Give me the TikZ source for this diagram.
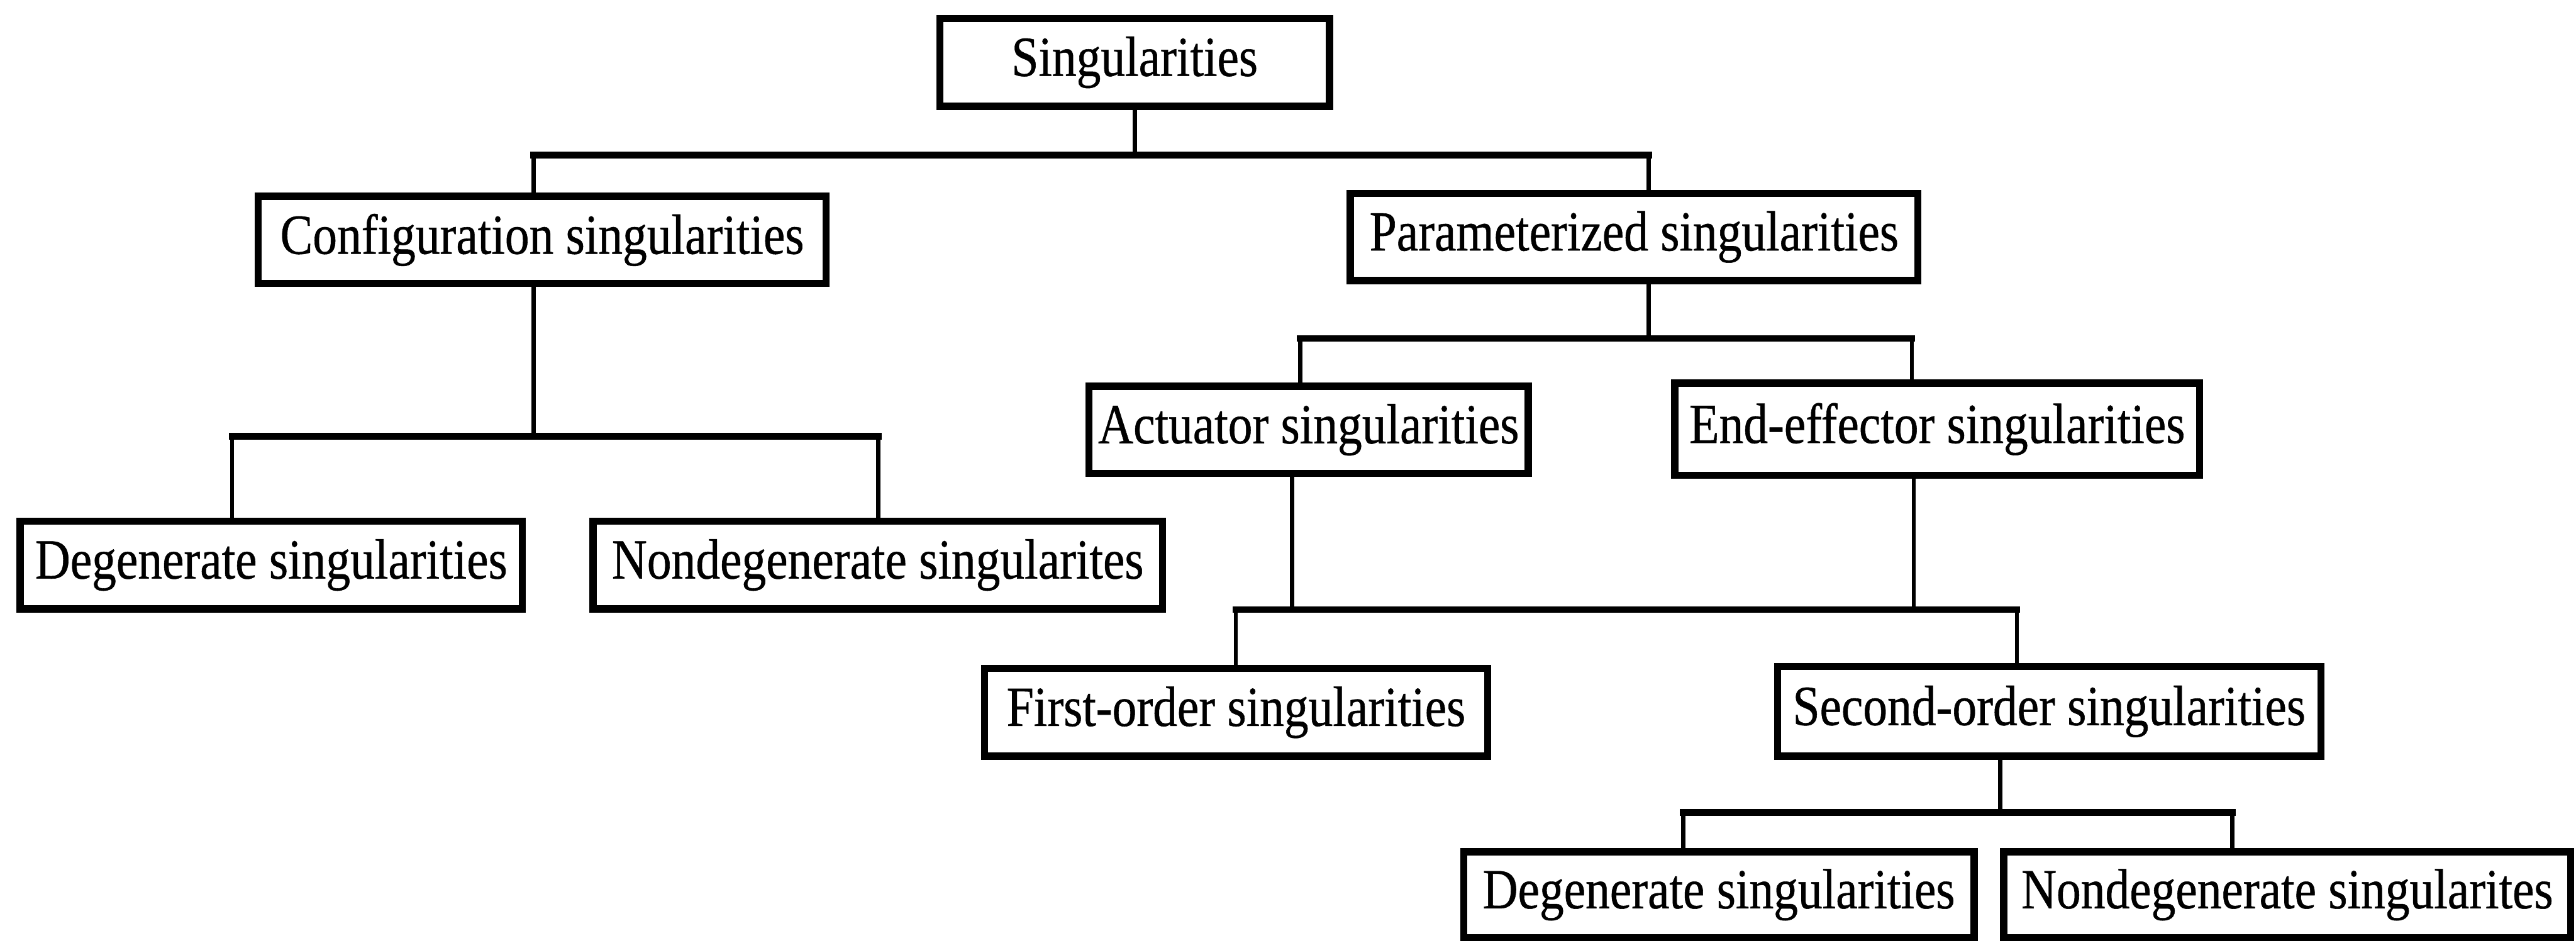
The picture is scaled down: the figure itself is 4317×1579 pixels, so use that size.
\documentclass[tikz,border=0pt]{standalone}
\usepackage{fontspec}
\setmainfont{Liberation Serif}[FakeStretch=0.86,FakeBold=0.6]
\begin{document}
\begin{tikzpicture}[x=0.01cm,y=-0.01cm,
  box/.style={draw,line width=0.12cm,inner sep=0pt,font=\fontsize{27}{30}\selectfont},
  vlink/.style={line width=0.07cm},
  hlink/.style={line width=0.11cm,line cap=rect}]
\useasboundingbox (0,0) rectangle (4317,1579);
% boxes
\node[box,minimum width=6.53cm,minimum height=1.47cm] (sing) at (1901.5,104.5) {Singularities};
\node[box,minimum width=9.51cm,minimum height=1.46cm] (conf) at (908.5,402) {Configuration singularities};
\node[box,minimum width=9.51cm,minimum height=1.46cm] (param) at (2738.5,397) {Parameterized singularities};
\node[box,minimum width=8.41cm,minimum height=1.47cm] (degA) at (454.5,946.5) {Degenerate singularities};
\node[box,minimum width=9.54cm,minimum height=1.47cm] (nondegA) at (1471,946.5) {Nondegenerate singularites};
\node[box,minimum width=7.36cm,minimum height=1.46cm] (act) at (2193,720) {Actuator singularities};
\node[box,minimum width=8.79cm,minimum height=1.54cm] (endeff) at (3246.5,719) {End-effector singularities};
\node[box,minimum width=8.43cm,minimum height=1.47cm] (first) at (2071.5,1193.5) {First-order singularities};
\node[box,minimum width=9.10cm,minimum height=1.50cm] (second) at (3434,1192) {Second-order singularities};
\node[box,minimum width=8.55cm,minimum height=1.44cm] (degB) at (2880.5,1499) {Degenerate singularities};
\node[box,minimum width=9.50cm,minimum height=1.44cm] (nondegB) at (3833,1499) {Nondegenerate singularites};
% junction coordinates
\coordinate (s1) at (1902,260);
\coordinate (a1) at (894,260);
\coordinate (b1) at (2763,260);
\coordinate (s2) at (894,731);
\coordinate (a2) at (389,731);
\coordinate (b2) at (1472,731);
\coordinate (s3) at (2763,567);
\coordinate (a3) at (2179,567);
\coordinate (b3) at (3204,567);
\coordinate (s4a) at (2165,1021);
\coordinate (s4b) at (3207,1021);
\coordinate (a4) at (2071,1021);
\coordinate (b4) at (3380,1021);
\coordinate (s5) at (3352,1361);
\coordinate (a5) at (2821,1361);
\coordinate (b5) at (3741,1361);
% vertical connectors
\draw[vlink] (sing.south -| s1) -- (s1);
\draw[vlink] (conf.north -| a1) -- (a1);
\draw[vlink] (param.north -| b1) -- (b1);
\draw[vlink] (conf.south -| s2) -- (s2);
\draw[vlink] (degA.north -| a2) -- (a2);
\draw[vlink] (nondegA.north -| b2) -- (b2);
\draw[vlink] (param.south -| s3) -- (s3);
\draw[vlink] (act.north -| a3) -- (a3);
\draw[vlink] (endeff.north -| b3) -- (b3);
\draw[vlink] (act.south -| s4a) -- (s4a);
\draw[vlink] (endeff.south -| s4b) -- (s4b);
\draw[vlink] (first.north -| a4) -- (a4);
\draw[vlink] (second.north -| b4) -- (b4);
\draw[vlink] (second.south -| s5) -- (s5);
\draw[vlink] (degB.north -| a5) -- (a5);
\draw[vlink] (nondegB.north -| b5) -- (b5);
% horizontal connectors
\draw[hlink] (a1) -- (b1);
\draw[hlink] (a2) -- (b2);
\draw[hlink] (a3) -- (b3);
\draw[hlink] (a4) -- (b4);
\draw[hlink] (a5) -- (b5);
\end{tikzpicture}
\end{document}
